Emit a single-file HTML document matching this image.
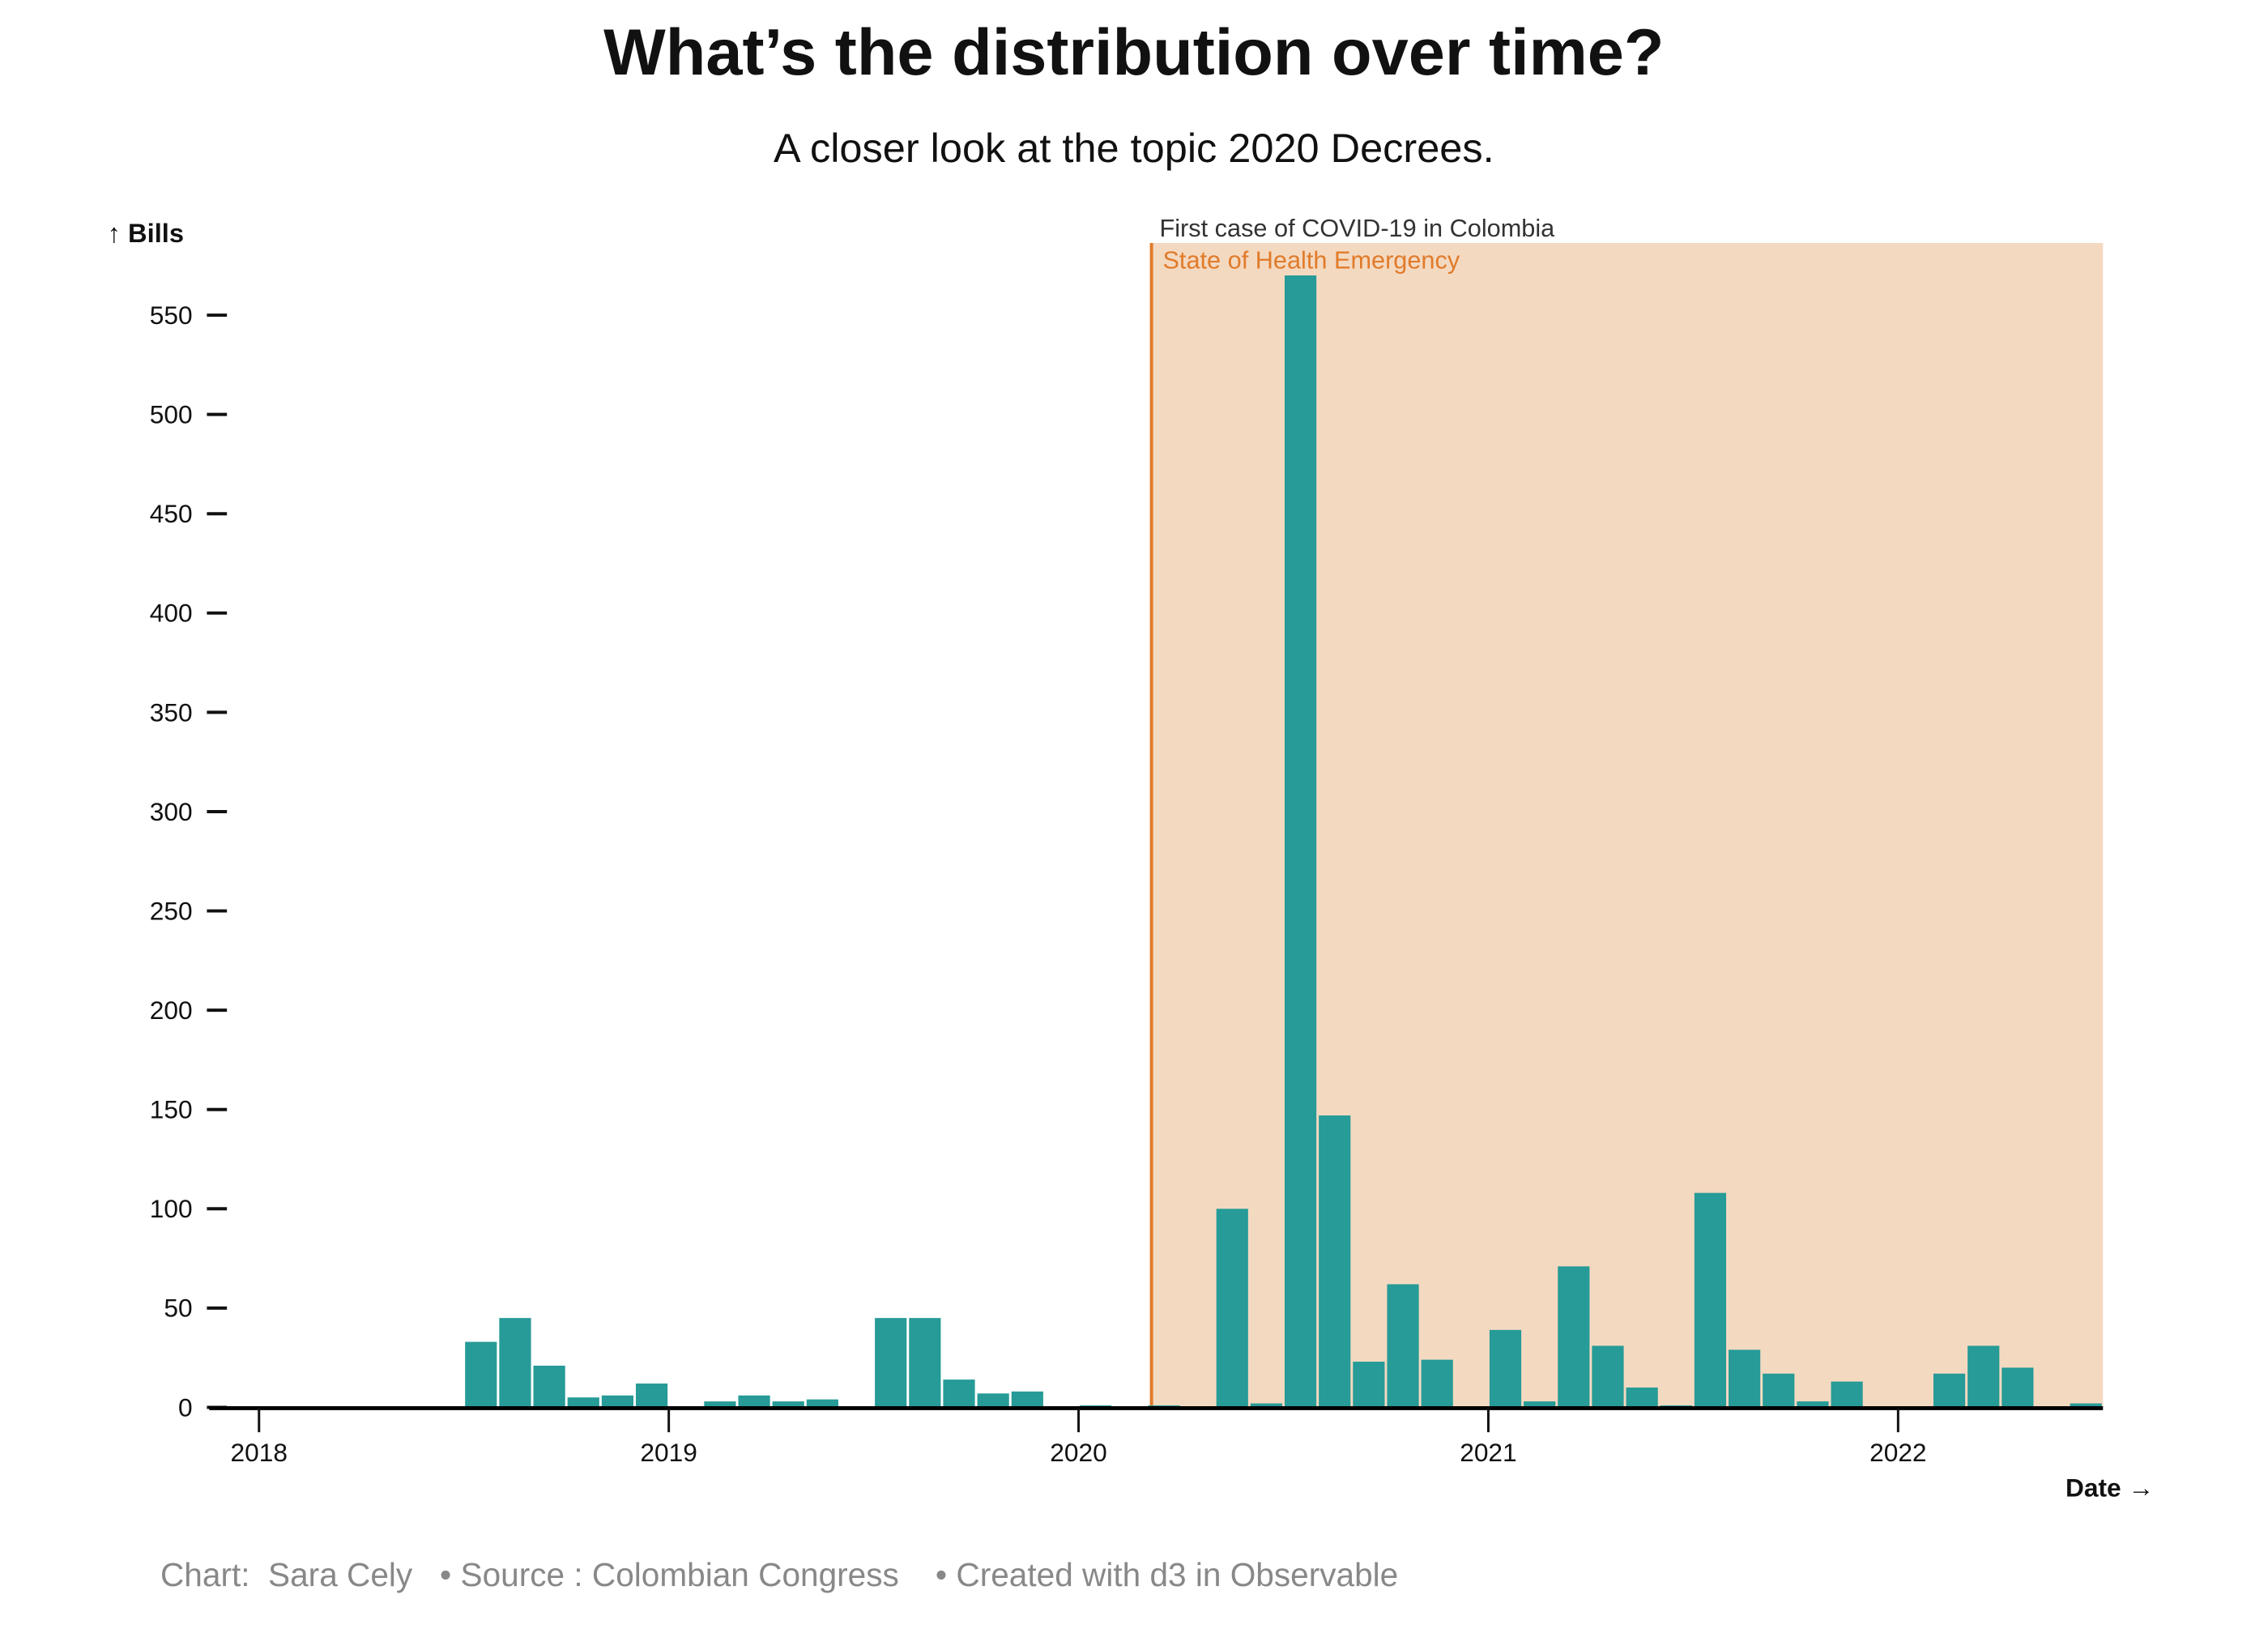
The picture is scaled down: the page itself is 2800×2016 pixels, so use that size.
<!DOCTYPE html>
<html><head><meta charset="utf-8"><style>
html,body{margin:0;padding:0;background:#fff;}
svg{display:block;font-family:"Liberation Sans",sans-serif;}
</style></head><body>
<svg id="chart" width="2800" height="2016" viewBox="0 0 2800 2016">
<g transform="scale(0.99)">
<text x="1414" y="93" text-anchor="middle" font-size="82" font-weight="bold" fill="#111">What’s the distribution over time?</text>
<text x="1414" y="202" text-anchor="middle" font-size="51" fill="#111">A closer look at the topic 2020 Decrees.</text>
<rect id="shade" fill="#f4d9c1"></rect>
<line id="covidline" stroke="#e07b2a" stroke-width="4"></line>
<text id="covidtext" font-size="31" fill="#333">First case of COVID-19 in Colombia</text>
<text id="emtext" font-size="31" fill="#e07b2a">State of Health Emergency</text>
<g id="bars"></g>
<g id="yaxis"></g>
<g id="xaxis"></g>
<text x="134" y="302" font-size="33" font-weight="bold" fill="#111">↑ Bills</text>
<text x="2686" y="1866" text-anchor="end" font-size="32" font-weight="bold" fill="#111">Date →</text>
<text x="200" y="1978" font-size="41" fill="#888" xml:space="preserve">Chart:  Sara Cely   • Source : Colombian Congress    • Created with d3 in Observable</text>
</g>
</svg>
<script>
const months = ["2018-07","2018-08","2018-09","2018-10","2018-11","2018-12","2019-01","2019-02","2019-03","2019-04","2019-05","2019-06","2019-07","2019-08","2019-09","2019-10","2019-11","2019-12","2020-01","2020-02","2020-03","2020-04","2020-05","2020-06","2020-07","2020-08","2020-09","2020-10","2020-11","2020-12","2021-01","2021-02","2021-03","2021-04","2021-05","2021-06","2021-07","2021-08","2021-09","2021-10","2021-11","2021-12","2022-01","2022-02","2022-03","2022-04","2022-05","2022-06"];
const bills = [33,45,21,5,6,12,0,3,6,3,4,0,45,45,14,7,8,0,1,0,1,0,100,2,570,147,23,62,24,0,39,3,71,31,10,1,108,29,17,3,13,0.5,0,17,31,20,0,2];
const yTicks = [0,50,100,150,200,250,300,350,400,450,500,550];
const xTicks = [2018,2019,2020,2021,2022];
const covidDate = 2020.178;
const domainEnd = 2022.5;
const NS="http://www.w3.org/2000/svg";
const x = t => 323 + (t-2018)*511;
const y = v => 1755 - v*(1362/550);
const mt = m => { const [a,b]=m.split("-").map(Number); return a+(b-1)/12; };
const bars=document.getElementById("bars");
months.forEach((m,i)=>{
  const r=document.createElementNS(NS,"rect");
  const x0=x(mt(m))+1.5, x1=x(mt(m)+1/12)-1.5;
  r.setAttribute("x",x0);r.setAttribute("width",x1-x0);
  r.setAttribute("y",y(bills[i]));r.setAttribute("height",1755-y(bills[i]));
  r.setAttribute("fill","#269b97");
  
  
  bars.appendChild(r);
});
const sh=document.getElementById("shade");
sh.setAttribute("x",x(covidDate));sh.setAttribute("y",303);sh.setAttribute("width",x(domainEnd)-x(covidDate));sh.setAttribute("height",1755-303);
const cl=document.getElementById("covidline");
cl.setAttribute("x1",x(covidDate));cl.setAttribute("x2",x(covidDate));cl.setAttribute("y1",303);cl.setAttribute("y2",1755);
document.getElementById("covidtext").setAttribute("x",x(covidDate)+10);document.getElementById("covidtext").setAttribute("y",295);
document.getElementById("emtext").setAttribute("x",x(covidDate)+14);document.getElementById("emtext").setAttribute("y",335);
const ya=document.getElementById("yaxis");
yTicks.forEach(v=>{
  const l=document.createElementNS(NS,"line");
  l.setAttribute("x1",258);l.setAttribute("x2",283);l.setAttribute("y1",y(v));l.setAttribute("y2",y(v));
  l.setAttribute("stroke","#111");l.setAttribute("stroke-width","4");
  
  
  ya.appendChild(l);
  const t=document.createElementNS(NS,"text");
  t.setAttribute("x",240);t.setAttribute("y",y(v)+11);t.setAttribute("text-anchor","end");
  t.setAttribute("font-size","32");t.setAttribute("fill","#111");t.textContent=v;
  
  
  ya.appendChild(t);
});
const xa=document.getElementById("xaxis");
const base=document.createElementNS(NS,"line");
base.setAttribute("x1",261);base.setAttribute("x2",x(domainEnd));base.setAttribute("y1",1756);base.setAttribute("y2",1756);
base.setAttribute("stroke","#000");base.setAttribute("stroke-width","5");


xa.appendChild(base);
xTicks.forEach(v=>{
  const l=document.createElementNS(NS,"line");
  l.setAttribute("x1",x(v));l.setAttribute("x2",x(v));l.setAttribute("y1",1756);l.setAttribute("y2",1786);
  l.setAttribute("stroke","#111");l.setAttribute("stroke-width","3");
  
  
  xa.appendChild(l);
  const t=document.createElementNS(NS,"text");
  t.setAttribute("x",x(v));t.setAttribute("y",1822);t.setAttribute("text-anchor","middle");
  t.setAttribute("font-size","32");t.setAttribute("fill","#111");t.textContent=v;
  
  
  xa.appendChild(t);
});
</script>
</body></html>
